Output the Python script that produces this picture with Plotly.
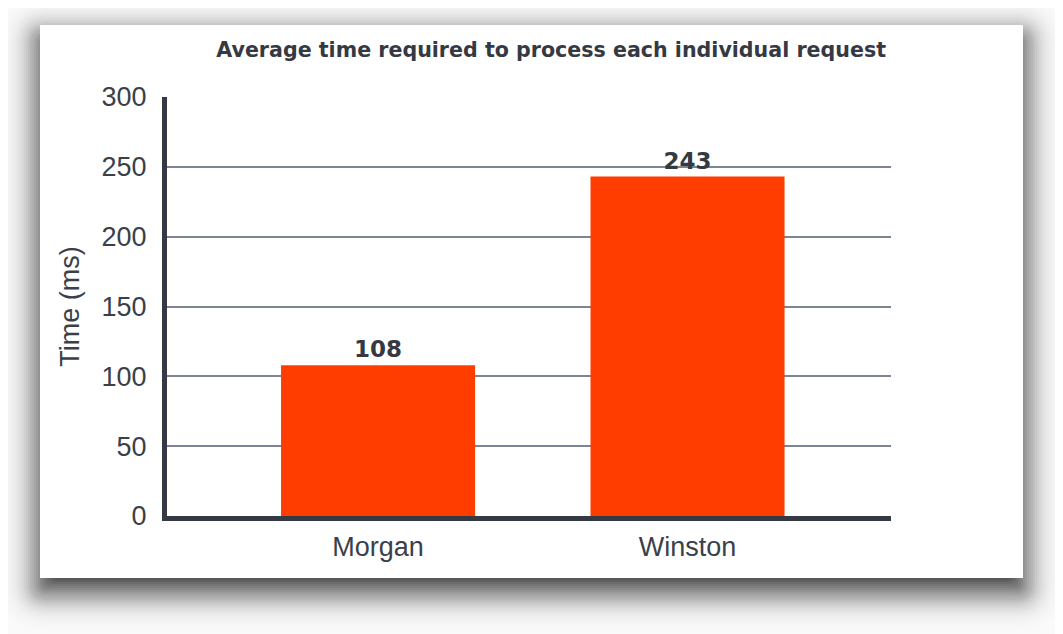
import math
import plotly.graph_objects as go

# ---- data ----
categories = ["Morgan", "Winston"]
times_ms = [108, 243]
y_ticks = [0, 50, 100, 150, 200, 250, 300]
title_text = "Average time required to process each individual request"
y_title = "Time (ms)"

# ---- geometry (pixels, figure coordinates; page body adds 8px offset) ----
OFF = 8
W, H = 1063 - OFF, 634 - OFF
PL, PR, PT, PB = 167 - OFF, 891 - OFF, 97 - OFF, 516 - OFF  # plot area


def px2paper_x(px):
    return (px - PL) / (PR - PL)


def px2paper_y(py):
    return (PB - py) / (PB - PT)


def rounded_rect_path(x0, y0, x1, y1, r):
    r = max(0.0, min(r, (x1 - x0) / 2, (y1 - y0) / 2))
    X = px2paper_x
    Y = px2paper_y
    p = [
        f"M {X(x0 + r)},{Y(y0)}",
        f"L {X(x1 - r)},{Y(y0)}",
        f"Q {X(x1)},{Y(y0)} {X(x1)},{Y(y0 + r)}",
        f"L {X(x1)},{Y(y1 - r)}",
        f"Q {X(x1)},{Y(y1)} {X(x1 - r)},{Y(y1)}",
        f"L {X(x0 + r)},{Y(y1)}",
        f"Q {X(x0)},{Y(y1)} {X(x0)},{Y(y1 - r)}",
        f"L {X(x0)},{Y(y0 + r)}",
        f"Q {X(x0)},{Y(y0)} {X(x0 + r)},{Y(y0)}",
        "Z",
    ]
    return " ".join(p)


# card and shadow
CX0, CY0, CX1, CY1 = 40 - OFF, 25 - OFF, 1023 - OFF, 578 - OFF
DY = 12
A, SIG = 0.85, 18.0


def target_P(d):
    phi = 0.5 * (1 + math.erf(d / (SIG * math.sqrt(2))))
    return 1 - A * (1 - phi)


es = list(range(-36, 60, 2))
shapes = []
for k, e in enumerate(es):
    if k + 1 < len(es):
        ratio = target_P(e) / target_P(es[k + 1])
    else:
        ratio = target_P(e)
    alpha = 1 - ratio
    if alpha <= 0:
        continue
    r = max(0, e) + 8
    shapes.append(dict(
        type="path", xref="paper", yref="paper", layer="below",
        path=rounded_rect_path(CX0 - e, CY0 + DY - e, CX1 + e, CY1 + DY + e, r),
        fillcolor="black", opacity=alpha, line=dict(width=0),
    ))

shapes.append(dict(
    type="rect", xref="paper", yref="paper", layer="below",
    x0=px2paper_x(CX0), x1=px2paper_x(CX1), y0=px2paper_y(CY1), y1=px2paper_y(CY0),
    fillcolor="white", line=dict(width=0),
))

dark = "#343943"
grid = "#7d8496"
tickc = "#3a3f4a"

fig = go.Figure()
fig.add_trace(go.Bar(
    x=categories, y=times_ms,
    marker=dict(color="#ff3d00", line=dict(width=0)),
    width=0.627,
    text=[str(v) for v in times_ms],
    textposition="outside",
    textfont=dict(family="DejaVu Sans", size=23, color=dark, weight="bold"),
    cliponaxis=False,
))

fig.update_layout(
    width=W, height=H,
    margin=dict(l=PL, r=W - PR, t=PT, b=H - PB, pad=0),
    paper_bgcolor="#fafafa",
    plot_bgcolor="rgba(0,0,0,0)",
    shapes=shapes,
    showlegend=False,
    title=dict(
        text=title_text,
        font=dict(family="DejaVu Sans", size=20.6, color=dark, weight="bold"),
        xref="paper", x=px2paper_x(886 - OFF), xanchor="right",
        yref="container", y=1 - (50 - OFF) / H, yanchor="middle",
    ),
    xaxis=dict(
        range=[-0.682, 1.6575],
        showgrid=False,
        showline=True, linewidth=5, linecolor=dark,
        ticks="", ticklabelstandoff=3,
        tickfont=dict(family="Liberation Sans", size=27, color=tickc),
        zeroline=False,
    ),
    yaxis=dict(
        range=[0, 300],
        tickvals=y_ticks,
        showgrid=True, gridcolor=grid, gridwidth=2,
        showline=True, linewidth=5, linecolor=dark,
        ticks="", ticklabelstandoff=10,
        tickfont=dict(family="Liberation Sans", size=27, color=tickc),
        zeroline=False,
        title=dict(text=y_title, standoff=16,
                   font=dict(family="Liberation Sans", size=27, color=tickc)),
    ),
)

fig.write_html("out.html")
